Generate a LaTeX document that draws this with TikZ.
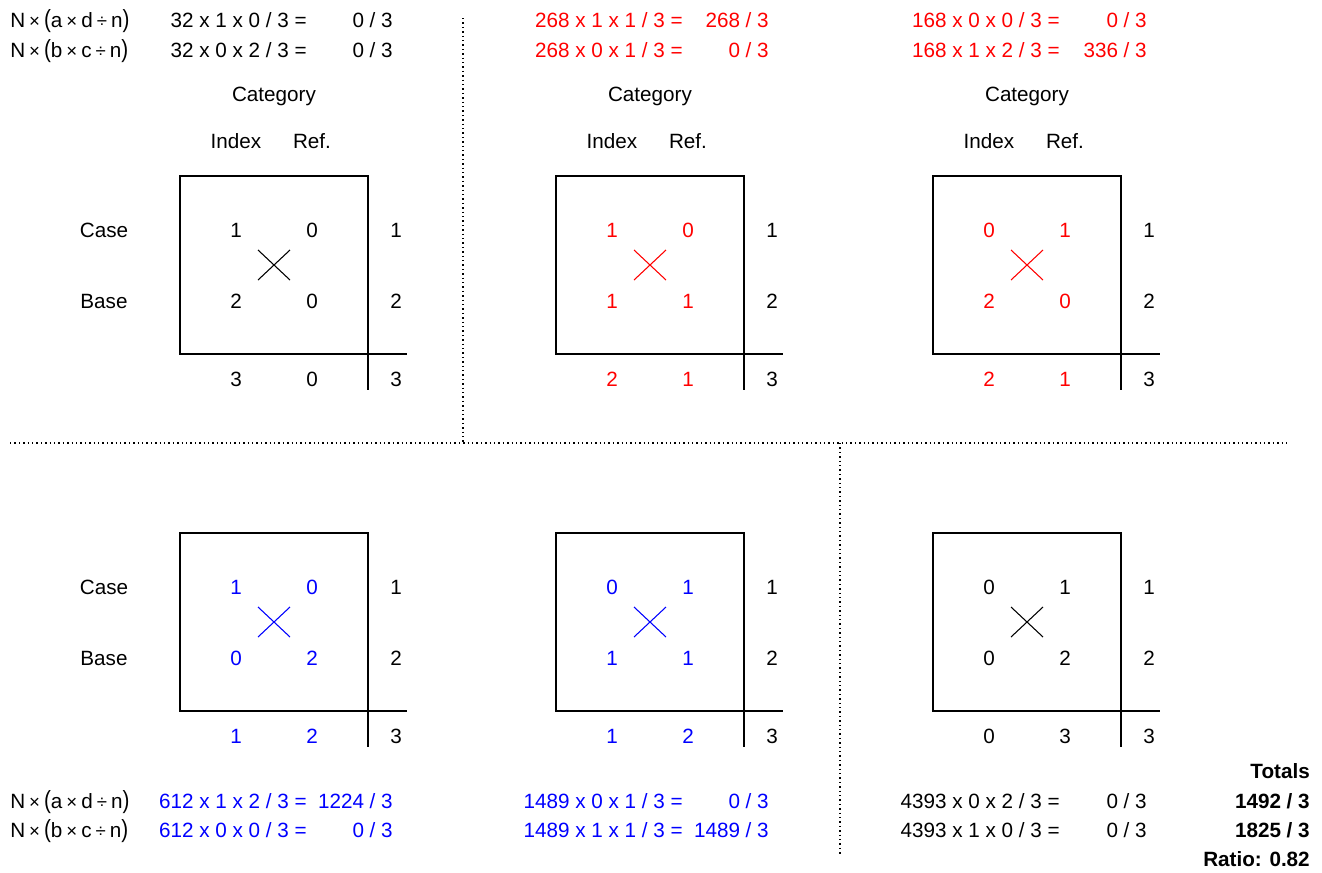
\documentclass[tikz,border=0pt]{standalone}
\usepackage{graphicx}
\usepackage{fontspec}
\setmainfont{Liberation Sans}
\definecolor{cred}{RGB}{255,0,0}
\definecolor{cblue}{RGB}{0,0,255}
\definecolor{cblack}{RGB}{0,0,0}
\tikzset{
  txt/.style={inner sep=0pt, anchor=base, yshift=-5.5pt, font=\fontsize{15.5}{18}\selectfont},
  frm/.style={txt, anchor=base east},
  lab/.style={txt, anchor=base west},
  boxline/.style={line width=1.1pt},
  crossline/.style={line width=0.8pt},
  sepline/.style={line width=1pt, dash pattern=on 1.1pt off 2.2pt},
}
\newcommand\opsym[1]{{\fontsize{14}{15}\selectfont#1}}
\newcommand\bigpar[1]{\scalebox{1}[1.2]{#1}}
\newcommand\labA{N\kern3pt\opsym{×}\kern3pt\bigpar{(}a\kern3pt\opsym{×}\kern3pt d\kern3pt\opsym{÷}\kern3pt n\bigpar{)}}
\newcommand\labB{N\kern3pt\opsym{×}\kern3pt\bigpar{(}b\kern3pt\opsym{×}\kern3pt c\kern3pt\opsym{÷}\kern3pt n\bigpar{)}}
% #1 name, #2 x, #3 y, #4 colour, #5 a, #6 b, #7 c, #8 d, #9 totals "t1/t2"
\newcommand\crosspanel[9]{%
\begin{scope}[shift={(#2,#3)}]
  \draw[boxline] (0,0) rectangle (188,178);
  \draw[boxline] (188,178) -- (188,214);
  \draw[boxline] (188,178) -- (227,178);
  \draw[crossline,#4] (78,74) -- (110,104) (78,104) -- (110,74);
  \node[txt,#4] (#1a) at (56,54) {#5};
  \node[txt,#4] (#1b) at (132,54) {#6};
  \node[txt,#4] (#1c) at (56,125) {#7};
  \node[txt,#4] (#1d) at (132,125) {#8};
  \node[txt] (#1r1) at (216,54) {1};
  \node[txt] (#1r2) at (216,125) {2};
  \node[txt] (#1rt) at (216,203) {3};
  \foreach \ta/\tb in {#9}{
    \node[txt,#4] (#1t1) at (56,203) {\ta};
    \node[txt,#4] (#1t2) at (132,203) {\tb};
  }
\end{scope}}
\newcommand\header[3]{%
\begin{scope}[shift={(#2,#3)}]
  \node[txt] (#1cat) at (94,-82) {Category};
  \node[txt] (#1idx) at (56,-35) {Index};
  \node[txt] (#1ref) at (132,-35) {Ref.};
\end{scope}}
\begin{document}
\begin{tikzpicture}[x=0.75pt,y=-0.75pt]
\useasboundingbox (0,0) rectangle (1322,872);

% separators
\coordinate (v1t) at (463,18);
\coordinate (v1b) at (463,443);
\coordinate (hl) at (10,443);
\coordinate (hr) at (1288,443);
\coordinate (v2t) at (840,443);
\coordinate (v2b) at (840,855);
\draw[sepline] (v1t) -- (v1b);
\draw[sepline] (hl) -- (hr);
\draw[sepline] (v2t) -- (v2b);

% top formulas
\node[lab] (la1) at (10,20) {\labA};
\node[lab] (lb1) at (10,50) {\labB};
\node[frm] (f1a) at (307,20) {32 x 1 x 0 / 3 =};
\node[frm] (r1a) at (393,20) {0 / 3};
\node[frm] (f1b) at (307,50) {32 x 0 x 2 / 3 =};
\node[frm] (r1b) at (393,50) {0 / 3};
\node[frm,cred] (f2a) at (683,20) {268 x 1 x 1 / 3 =};
\node[frm,cred] (r2a) at (769,20) {268 / 3};
\node[frm,cred] (f2b) at (683,50) {268 x 0 x 1 / 3 =};
\node[frm,cred] (r2b) at (769,50) {0 / 3};
\node[frm,cred] (f3a) at (1060,20) {168 x 0 x 0 / 3 =};
\node[frm,cred] (r3a) at (1147,20) {0 / 3};
\node[frm,cred] (f3b) at (1060,50) {168 x 1 x 2 / 3 =};
\node[frm,cred] (r3b) at (1147,50) {336 / 3};

% headers
\header{h1}{180}{176}
\header{h2}{556}{176}
\header{h3}{933}{176}

% row labels
\node[txt] (case1) at (104,230) {Case};
\node[txt] (base1) at (104,301) {Base};
\node[txt] (case2) at (104,587) {Case};
\node[txt] (base2) at (104,658) {Base};

% panels
\crosspanel{pa}{180}{176}{cblack}{1}{0}{2}{0}{3/0}
\crosspanel{pb}{556}{176}{cred}{1}{0}{1}{1}{2/1}
\crosspanel{pc}{933}{176}{cred}{0}{1}{2}{0}{2/1}
\crosspanel{pd}{180}{533}{cblue}{1}{0}{0}{2}{1/2}
\crosspanel{pe}{556}{533}{cblue}{0}{1}{1}{1}{1/2}
\crosspanel{pf}{933}{533}{cblack}{0}{1}{0}{2}{0/3}

% bottom formulas
\node[lab] (la2) at (10,801) {\labA};
\node[lab] (lb2) at (10,830) {\labB};
\node[frm,cblue] (f4a) at (307,801) {612 x 1 x 2 / 3 =};
\node[frm,cblue] (r4a) at (393,801) {1224 / 3};
\node[frm,cblue] (f4b) at (307,830) {612 x 0 x 0 / 3 =};
\node[frm,cblue] (r4b) at (393,830) {0 / 3};
\node[frm,cblue] (f5a) at (683,801) {1489 x 0 x 1 / 3 =};
\node[frm,cblue] (r5a) at (769,801) {0 / 3};
\node[frm,cblue] (f5b) at (683,830) {1489 x 1 x 1 / 3 =};
\node[frm,cblue] (r5b) at (769,830) {1489 / 3};
\node[frm] (f6a) at (1060,801) {4393 x 0 x 2 / 3 =};
\node[frm] (r6a) at (1147,801) {0 / 3};
\node[frm] (f6b) at (1060,830) {4393 x 1 x 0 / 3 =};
\node[frm] (r6b) at (1147,830) {0 / 3};

% totals
\node[frm,font=\fontsize{15.5}{18}\selectfont\bfseries] (tot) at (1310,771) {Totals};
\node[frm,font=\fontsize{15.5}{18}\selectfont\bfseries] (tota) at (1310,801) {1492 / 3};
\node[frm,font=\fontsize{15.5}{18}\selectfont\bfseries] (totb) at (1310,830) {1825 / 3};
\node[frm,font=\fontsize{15.5}{18}\selectfont\bfseries] (ratio) at (1310,859) {Ratio: 0.82};
\end{tikzpicture}
\end{document}
